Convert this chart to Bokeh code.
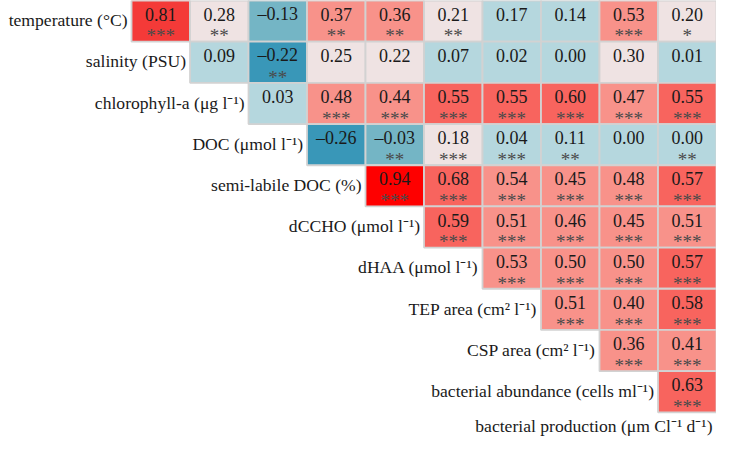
from bokeh.plotting import figure
from bokeh.models import ColumnDataSource, Range1d
from bokeh.embed import file_html
from bokeh.resources import INLINE
from bokeh.core.properties import value

variables = [
    "temperature (°C)",
    "salinity (PSU)",
    "chlorophyll-a (μg l⁻¹)",
    "DOC (μmol l⁻¹)",
    "semi-labile DOC (%)",
    "dCCHO (μmol l⁻¹)",
    "dHAA (μmol l⁻¹)",
    "TEP area (cm² l⁻¹)",
    "CSP area (cm² l⁻¹)",
    "bacterial abundance (cells ml⁻¹)",
    "bacterial production (μm Cl⁻¹ d⁻¹)",
]

corr_temperature = [0.81, 0.28, -0.13, 0.37, 0.36, 0.21, 0.17, 0.14, 0.53, 0.20]
corr_salinity = [0.09, -0.22, 0.25, 0.22, 0.07, 0.02, 0.00, 0.30, 0.01]
corr_chla = [0.03, 0.48, 0.44, 0.55, 0.55, 0.60, 0.47, 0.55]
corr_doc = [-0.26, -0.03, 0.18, 0.04, 0.11, 0.00, 0.00]
corr_sldoc = [0.94, 0.68, 0.54, 0.45, 0.48, 0.57]
corr_dccho = [0.59, 0.51, 0.46, 0.45, 0.51]
corr_dhaa = [0.53, 0.50, 0.50, 0.57]
corr_tep = [0.51, 0.40, 0.58]
corr_csp = [0.36, 0.41]
corr_abund = [0.63]

sig_temperature = ["***", "**", "", "**", "**", "**", "", "", "***", "*"]
sig_salinity = ["", "**", "", "", "", "", "", "", ""]
sig_chla = ["", "***", "***", "***", "***", "***", "***", "***"]
sig_doc = ["", "**", "***", "***", "**", "", "**"]
sig_sldoc = ["***", "***", "***", "***", "***", "***"]
sig_dccho = ["***", "***", "***", "***", "***"]
sig_dhaa = ["***", "***", "***", "***"]
sig_tep = ["***", "***", "***"]
sig_csp = ["***", "***"]
sig_abund = ["***"]

corr_rows = [corr_temperature, corr_salinity, corr_chla, corr_doc, corr_sldoc,
             corr_dccho, corr_dhaa, corr_tep, corr_csp, corr_abund]
sig_rows = [sig_temperature, sig_salinity, sig_chla, sig_doc, sig_sldoc,
            sig_dccho, sig_dhaa, sig_tep, sig_csp, sig_abund]


def bin_color(v):
    if v >= 0.9:
        return "#fe0000"
    if v >= 0.75:
        return "#f43a38"
    if v >= 0.55:
        return "#f8645e"
    if v >= 0.35:
        return "#f8928a"
    if v >= 0.175:
        return "#efe3e3"
    if v >= 0:
        return "#b5d7de"
    if v >= -0.15:
        return "#74b5c5"
    return "#3997b8"


def fmt(v):
    s = f"{abs(v):.2f}"
    return ("–" + s) if v < 0 else s


xs, ys, cols, nums, stars = [], [], [], [], []
for i, (vals, sigs) in enumerate(zip(corr_rows, sig_rows)):
    for j, (v, s) in enumerate(zip(vals, sigs)):
        xs.append(i + j + 0.5)
        ys.append(i + 0.5)
        cols.append(bin_color(v))
        nums.append(fmt(v))
        stars.append(s)

src = ColumnDataSource(dict(
    x=xs, y=ys, color=cols, num=nums, star=stars,
    ynum=[y - 0.17 for y in ys], ystar=[y + 0.36 for y in ys],
))

lab_src = ColumnDataSource(dict(
    x=list(range(len(variables))),
    y=[i + 0.48 for i in range(len(variables) - 1)] + [len(variables) - 1 + 0.34],
    text=variables,
))

p = figure(width=716, height=439, output_backend="svg", toolbar_location=None,
           x_range=Range1d(-2.24, 10.0), y_range=Range1d(10.66, 0.0),
           min_border=0, outline_line_color=None)
p.axis.visible = False
p.grid.visible = False
p.background_fill_color = "white"
p.border_fill_color = "white"

p.rect(x="x", y="y", width=1, height=1, source=src, fill_color="color",
       line_color="#d2d2d2", line_width=1.8)
p.text(x="x", y="ynum", text="num", source=src, text_align="center",
       text_baseline="middle", text_font=value("Liberation Serif"),
       text_font_size="18px", text_color="#1a1a1a")
p.text(x="x", y="ystar", text="star", source=src, text_align="center",
       text_baseline="middle", text_font=value("Liberation Serif"),
       text_font_size="19px", text_color="#4a4a4a")
p.text(x="x", y="y", text="text", source=lab_src, text_align="right",
       text_baseline="middle", x_offset=-4, text_font=value("Liberation Serif"),
       text_font_size="17.6px", text_color="#1a1a1a")

open("out.html", "w").write(file_html(p, INLINE))
